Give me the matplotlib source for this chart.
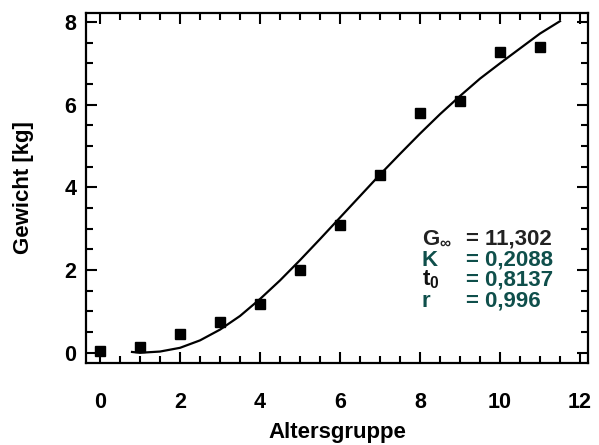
import matplotlib
matplotlib.use("Agg")
import matplotlib.pyplot as plt
from matplotlib.ticker import MultipleLocator

plt.rcParams['font.family'] = ['Liberation Sans', 'DejaVu Sans']
plt.rcParams['font.weight'] = 'bold'
plt.rcParams['mathtext.fontset'] = 'custom'
plt.rcParams['mathtext.rm'] = 'Liberation Sans:bold'
plt.rcParams['mathtext.it'] = 'Liberation Sans:bold'
plt.rcParams['mathtext.bf'] = 'Liberation Sans:bold'

# measured weights per age group
alter = [0, 1, 2, 3, 4, 5, 6, 7, 8, 9, 10, 11]
gewicht = [0.05, 0.14, 0.46, 0.75, 1.17, 2.0, 3.08, 4.29, 5.81, 6.10, 7.28, 7.40]

# fitted growth curve
kurve_t = [0.8, 1.0, 1.5, 2.0, 2.5, 3.0, 3.5, 4.0, 4.5, 5.0, 5.5, 6.0,
           6.5, 7.0, 7.5, 8.0, 8.5, 9.0, 9.5, 10.0, 10.5, 11.0, 11.5]
kurve_w = [0.02, 0.0, 0.03, 0.12, 0.30, 0.56, 0.89, 1.30, 1.75, 2.24, 2.75, 3.27,
           3.79, 4.31, 4.81, 5.30, 5.77, 6.21, 6.63, 7.0, 7.36, 7.72, 8.02]

param_namen = [r"G$_{\infty}$", "K", r"t$_{0}$", "r"]
param_werte = ["= 11,302", "= 0,2088", "= 0,8137", "= 0,996"]
namen_farben = ["#222222", "#0f4f4b", "#111111", "#0f4f4b"]
werte_farben = ["#222222", "#0f4f4b", "#0f4f4b", "#0f4f4b"]

fig = plt.figure(figsize=(5.99, 4.45), dpi=100)
ax = fig.add_axes([0.1436, 0.184, 0.838, 0.787])

ax.plot(kurve_t, kurve_w, color='black', lw=1.6)
ax.plot(alter, gewicht, 's', color='black', ms=7)

ax.set_xlim(-0.35, 12.2)
ax.set_ylim(-0.25, 8.22)
ax.xaxis.set_major_locator(MultipleLocator(2))
ax.xaxis.set_minor_locator(MultipleLocator(0.5))
ax.yaxis.set_major_locator(MultipleLocator(2))
ax.yaxis.set_minor_locator(MultipleLocator(0.5))
ax.tick_params(which='both', direction='in', top=True, right=True, width=1.5,
               labelsize=15.5)
ax.tick_params(which='major', length=8)
ax.tick_params(which='minor', length=5)
ax.tick_params(axis='x', pad=21)
ax.tick_params(axis='y', pad=7)
for s in ax.spines.values():
    s.set_linewidth(1.6)

ax.set_xlabel("Altersgruppe", fontsize=16, fontweight='bold', labelpad=6)
ax.set_ylabel("Gewicht [kg]", fontsize=16, fontweight='bold', labelpad=22)

ys = [2.75, 2.24, 1.76, 1.25]
for i, y in enumerate(ys):
    ax.text(8.05, y, param_namen[i], color=namen_farben[i], fontsize=16,
            fontweight='bold', va='center')
    ax.text(9.15, y, param_werte[i], color=werte_farben[i], fontsize=16,
            fontweight='bold', va='center')

fig.savefig("out.png", dpi=100)
